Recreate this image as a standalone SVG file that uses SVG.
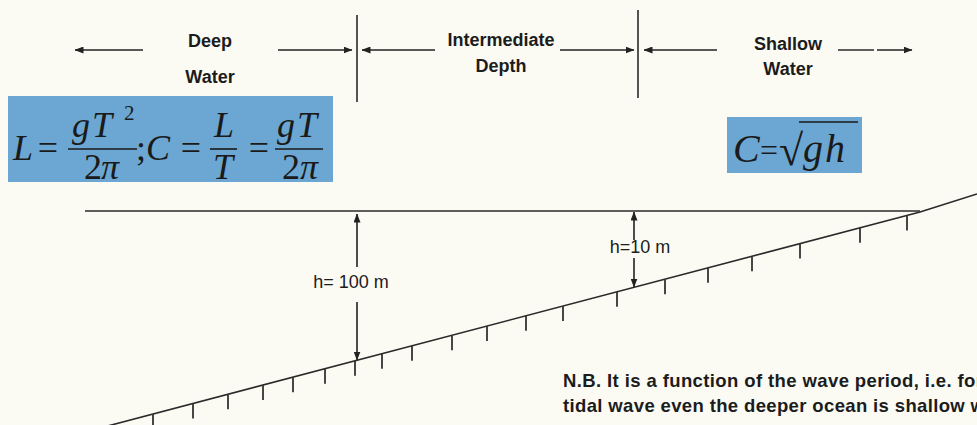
<svg xmlns="http://www.w3.org/2000/svg" width="977" height="425" viewBox="0 0 977 425">
<defs>
<marker id="ah" markerUnits="userSpaceOnUse" markerWidth="9" markerHeight="7" refX="8.5" refY="3.5" orient="auto">
<path d="M0,0 L9,3.5 L0,7 z" fill="#222"/>
</marker>
<style>
.lbl{font-family:"Liberation Sans",Arial,sans-serif;font-weight:bold;font-size:18px;fill:#1c1c1c;text-anchor:middle}
.hl{font-family:"Liberation Sans",Arial,sans-serif;font-size:18px;fill:#1c1c1c;text-anchor:middle}
.nb{font-family:"Liberation Sans",Arial,sans-serif;font-weight:bold;font-size:18.5px;fill:#1c1c1c}
.mi{font-family:"Liberation Serif","Times New Roman",serif;font-style:italic;font-size:36px;fill:#1a1a1a}
.mu{font-family:"Liberation Serif","Times New Roman",serif;font-size:36px;fill:#1a1a1a}
.sup{font-family:"Liberation Serif","Times New Roman",serif;font-size:21px;fill:#1a1a1a}
.ar{stroke:#222;stroke-width:1.6;fill:none;marker-end:url(#ah)}
.ln{stroke:#2a2a2a;stroke-width:1.6;fill:none}
.bar{stroke:#1a1a1a;stroke-width:1.6}
.tk{stroke:#333;stroke-width:1.8}
.box{fill:#6ba7d2}
</style>
</defs>
<rect width="977" height="425" fill="#fbfbf4"/>

<g id="zone-labels">
<text class="lbl" x="210" y="47">Deep</text>
<text class="lbl" x="210" y="83">Water</text>
<text class="lbl" x="501" y="46">Intermediate</text>
<text class="lbl" x="501" y="72">Depth</text>
<text class="lbl" x="788" y="50">Shallow</text>
<text class="lbl" x="788" y="75">Water</text>
</g>

<g id="boundaries">
<line class="ln" x1="357" y1="15" x2="357" y2="102"/>
<line class="ln" x1="638" y1="10" x2="638" y2="98"/>
</g>

<g id="connectors">
<line class="ar" x1="143" y1="50" x2="75" y2="50"/>
<line class="ar" x1="278" y1="50" x2="352" y2="50"/>
<line class="ar" x1="435" y1="50" x2="362" y2="50"/>
<line class="ar" x1="560" y1="50" x2="634" y2="50"/>
<line class="ar" x1="717" y1="50" x2="644" y2="50"/>
<line class="ln" x1="838" y1="50" x2="874" y2="50"/>
<line class="ar" x1="877" y1="50" x2="912" y2="50"/>
<line class="ar" x1="357" y1="267" x2="357" y2="214"/>
<line class="ar" x1="357" y1="302" x2="357" y2="360"/>
<line class="ar" x1="634" y1="240" x2="634" y2="212"/>
<line class="ar" x1="634" y1="258" x2="634" y2="287"/>
</g>

<g id="deep-formula">
<rect class="box" x="8" y="96" width="325" height="86"/>
<text class="mi" x="13" y="160">L</text>
<text class="mu" x="48" y="160" text-anchor="middle">=</text>
<text class="mi" x="72" y="137">g</text>
<text class="mi" x="92" y="137">T</text>
<text class="sup" x="124" y="120">2</text>
<line class="bar" x1="68" y1="149" x2="137" y2="149"/>
<text class="mu" x="84" y="179">2</text>
<text class="mi" x="101" y="179">π</text>
<text class="mu" x="136" y="160">;<tspan class="mi">C</tspan></text>
<text class="mu" x="191" y="160" text-anchor="middle">=</text>
<text class="mi" x="224" y="137" text-anchor="middle">L</text>
<line class="bar" x1="210" y1="149" x2="237" y2="149"/>
<text class="mi" x="223" y="179" text-anchor="middle">T</text>
<text class="mu" x="259" y="160" text-anchor="middle">=</text>
<text class="mi" x="277" y="137">g</text>
<text class="mi" x="297" y="137">T</text>
<line class="bar" x1="275" y1="149" x2="323" y2="149"/>
<text class="mu" x="282" y="179">2</text>
<text class="mi" x="300" y="179">π</text>
</g>

<g id="shallow-formula">
<rect class="box" x="727" y="117" width="135" height="56"/>
<text class="mi" x="733" y="162" style="font-size:40px">C</text>
<text class="mu" x="769" y="161" text-anchor="middle" style="font-size:32px">=</text>
<text class="mu" x="779" y="165" style="font-size:44px">√</text>
<line class="bar" x1="799" y1="122" x2="858" y2="122"/>
<text class="mi" x="803" y="162" style="font-size:40px">g</text>
<text class="mi" x="825" y="162" style="font-size:40px">h</text>
</g>

<g id="profile">
<line class="ln" x1="85" y1="211" x2="920" y2="211"/>
<polyline class="ln" points="100,428 920,212 977,194"/>
<g class="tk">
<line x1="153" y1="414" x2="153" y2="429"/>
<line x1="193" y1="403.5" x2="193" y2="418.5"/>
<line x1="228" y1="394.3" x2="228" y2="409.3"/>
<line x1="263" y1="385.1" x2="263" y2="400.1"/>
<line x1="293" y1="377.2" x2="293" y2="392.2"/>
<line x1="325" y1="368.7" x2="325" y2="383.7"/>
<line x1="355" y1="360.8" x2="355" y2="375.8"/>
<line x1="382" y1="353.7" x2="382" y2="368.7"/>
<line x1="412" y1="345.8" x2="412" y2="360.8"/>
<line x1="452" y1="335.3" x2="452" y2="350.3"/>
<line x1="487" y1="326.1" x2="487" y2="341.1"/>
<line x1="526" y1="315.8" x2="526" y2="330.8"/>
<line x1="563" y1="306" x2="563" y2="321"/>
<line x1="617" y1="291.8" x2="617" y2="306.8"/>
<line x1="665" y1="279.2" x2="665" y2="294.2"/>
<line x1="708" y1="267.8" x2="708" y2="282.8"/>
<line x1="752" y1="256.3" x2="752" y2="271.3"/>
<line x1="800" y1="243.6" x2="800" y2="258.6"/>
<line x1="860" y1="227.8" x2="860" y2="242.8"/>
<line x1="907" y1="215.4" x2="907" y2="230.4"/>
</g>
</g>

<g id="depth-labels">
<text class="hl" x="351" y="288">h= 100 m</text>
<text class="hl" x="640" y="253">h=10 m</text>
</g>

<g id="note">
<text class="nb" x="563" y="387" textLength="420" lengthAdjust="spacing">N.B. It is a function of the wave period, i.e. for</text>
<text class="nb" x="563" y="412" textLength="422" lengthAdjust="spacing">tidal wave even the deeper ocean is shallow w</text>
</g>
</svg>
